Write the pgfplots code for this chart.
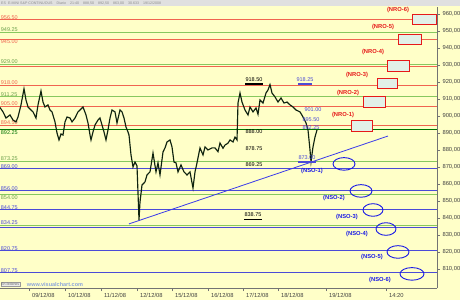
\documentclass[border=0pt]{standalone}
\usepackage{pgfplots}
\pgfplotsset{compat=1.18}
\usepackage{fontspec}
\setmainfont{Liberation Sans}
\definecolor{bg}{RGB}{255,255,200}
\definecolor{lred}{RGB}{240,100,80}
\definecolor{lgreen}{RGB}{135,200,95}
\definecolor{dgreen}{RGB}{0,115,0}
\definecolor{lblue}{RGB}{75,75,215}
\definecolor{nro}{RGB}{230,25,25}
\definecolor{nso}{RGB}{25,25,230}
\definecolor{boxfill}{RGB}{226,240,232}
\definecolor{price}{RGB}{15,35,15}
\definecolor{wm}{RGB}{140,165,220}
\begin{document}
\begin{tikzpicture}[x=1pt,y=1pt]
\useasboundingbox (0,-12) rectangle (460,288);
\fill[bg] (0,-12) rectangle (460,288);
\fill[black!12] (0,281.5) rectangle (460,288);
\node[anchor=west, inner sep=0pt, font=\fontsize{3.6}{4}\selectfont, text=black!45] at (1,284.7)
 {ES \;E-MINI S\&P CONTINUOUS \;\; Diario \;\; 21:40 \;\; 888,50 \;\; 892,50 \;\; 863,00 \;\; 30.633 \;\; 19/12/2008};
\begin{axis}[
  at={(0,0)}, anchor=south west,
  width=437pt, height=281pt, scale only axis,
  xmin=0, xmax=437, ymin=798.8, ymax=964.1,
  axis x line*=bottom, axis y line*=right,
  axis line style={black!55, line width=0.6pt},
  tick align=outside, major tick length=3pt,
  tick style={black!55, line width=0.5pt},
  ytick={810,820,...,960},
  /pgf/number format/assume math mode=true,
  yticklabel style={font=\fontsize{5.8}{6}\selectfont, text=black!75, xshift=-1pt,
    /pgf/number format/.cd, fixed, fixed zerofill, precision=2, use comma, 1000 sep={}},
  xtick={29,65,101,137,172,208,243,278,326,386},
  xticklabels={09/12/08,10/12/08,11/12/08,12/12/08,15/12/08,16/12/08,17/12/08,18/12/08,19/12/08,14:20},
  xticklabel style={anchor=north west, font=\fontsize{5.8}{6}\selectfont, text=black!75, xshift=-0.5pt, yshift=1pt},
  clip=false,
]
% horizontal levels
\addplot[lred, line width=1.1pt] coordinates {(0,956.5) (437,956.5)};
\addplot[lgreen, line width=1.1pt] coordinates {(0,949.25) (437,949.25)};
\addplot[lred, line width=1.1pt] coordinates {(0,945) (437,945)};
\addplot[lgreen, line width=1.1pt] coordinates {(0,930.2) (437,930.2)};
\addplot[lred, line width=1.1pt] coordinates {(0,928.9) (437,928.9)};
\addplot[lred, line width=1.1pt] coordinates {(0,918) (437,918)};
\addplot[lgreen, line width=1.1pt] coordinates {(0,911.25) (437,911.25)};
\addplot[lred, line width=1.1pt] coordinates {(0,905.5) (437,905.5)};
\addplot[lred, line width=1.1pt] coordinates {(0,894.5) (437,894.5)};
\addplot[dgreen, line width=1.1pt] coordinates {(0,892.25) (437,892.25)};
\addplot[lgreen, line width=1.1pt] coordinates {(0,873.25) (437,873.25)};
\addplot[lblue, line width=1.1pt] coordinates {(0,869) (437,869)};
\addplot[lblue, line width=1.1pt] coordinates {(0,856) (437,856)};
\addplot[lgreen, line width=1.1pt] coordinates {(0,854) (437,854)};
\addplot[lblue, line width=1.1pt] coordinates {(0,844.75) (437,844.75)};
\addplot[lgreen, line width=1.1pt] coordinates {(0,835.4) (437,835.4)};
\addplot[lblue, line width=1.1pt] coordinates {(0,834.25) (437,834.25)};
\addplot[lblue, line width=1.1pt] coordinates {(0,820.75) (437,820.75)};
\addplot[lblue, line width=1.1pt] coordinates {(0,807.75) (437,807.75)};
% left labels
\begin{scope}[every node/.style={anchor=south west, inner sep=0.4pt, xshift=0.3pt, font=\fontsize{5.5}{6}\selectfont}]
\node[text=lred] at (axis cs:0,956.5) {956.50};
\node[text=lgreen!80!black] at (axis cs:0,949.25) {949.25};
\node[text=lred, anchor=north west] at (axis cs:0,945) {945.00};
\node[text=lgreen!80!black] at (axis cs:0,930.2) {929.00};
\node[text=lred] at (axis cs:0,918) {918.00};
\node[text=lgreen!80!black] at (axis cs:0,911.25) {911.25};
\node[text=lred] at (axis cs:0,905.5) {905.00};
\node[text=lred] at (axis cs:0,894.5) {894.50};
\node[text=dgreen, anchor=north west] at (axis cs:0,892.0) {892.25};
\node[text=lgreen!80!black] at (axis cs:0,873.25) {873.25};
\node[text=lblue] at (axis cs:0,869) {869.00};
\node[text=lblue] at (axis cs:0,856) {856.00};
\node[text=lgreen!80!black, anchor=north west] at (axis cs:0,853.6) {854.00};
\node[text=lblue] at (axis cs:0,844.75) {844.75};
\node[text=lblue] at (axis cs:0,835.6) {834.25};
\node[text=lblue] at (axis cs:0,820.75) {820.75};
\node[text=lblue] at (axis cs:0,807.75) {807.75};
\end{scope}
% trend line
\addplot[nso!85!white, line width=0.8pt] coordinates {(129,836.5) (388,888.2)};
% price
\addplot[price, line width=1.15pt, line join=miter] coordinates {
(0,905.0) (3,902.4) (6,898.8) (10,900.6) (13,897.6) (16,896.5) (18,899.4) (21,906.5)
(24,916.0) (26,909.4) (28,905.3) (31,903.5) (33,902.4) (36,898.8) (38,906.5) (41,914.7)
(43,908.2) (45,905.3) (48,906.5) (50,903.5) (52,902.4) (55,896.5) (57,890.0) (59,885.9)
(61,889.4) (63,888.8) (65,896.5) (67,899.4) (70,898.8) (72,896.5) (75,898.8) (78,902.4)
(80,903.5) (83,905.3) (86,900.6) (88,895.9) (90,888.8) (91,885.9) (93,890.6) (95,894.7)
(98,897.6) (100,898.8) (102,894.7) (104,890.6) (106,885.9) (108,891.8) (110,898.8) (112,903.5)
(115,902.4) (117,895.9) (120,903.5) (122,902.4) (124,898.8) (126,893.5) (128,890.6) (129,888.8)
(131,877.1) (133,870.0) (135,872.9) (137,870.6) (139,838.8) (140,849.4) (142,859.4) (145,861.2)
(147,865.3) (150,867.1) (153,878.2) (156,867.1) (158,872.4) (160,865.3) (163,878.8) (165,881.2)
(167,884.7) (170,885.9) (172,881.8) (174,872.9) (176,872.4) (178,867.1) (181,871.2) (184,867.1)
(187,865.3) (190,867.1) (193,857.6) (195,867.1) (197,872.4) (200,881.2) (203,877.1) (205,881.8)
(208,880.0) (212,881.2) (215,881.2) (218,879.0) (220,884.1) (223,881.0) (225,882.9) (228,884.0)
(230,885.9) (233,884.7) (235,887.6) (237,885.9) (238,907.6) (240,913.5) (242,908.2) (245,903.5)
(248,900.6) (250,905.3) (253,902.4) (256,904.7) (258,901.0) (260,909.4) (263,907.6) (266,913.5)
(268,915.3) (270,918.5) (272,913.5) (275,911.2) (278,908.2) (281,910.6) (284,907.6) (287,908.2)
(290,906.5) (293,905.3) (296,903.5) (300,902.4) (303,899.4) (306,895.9) (308,891.8) (309,885.9)
(310,880.0) (311,873.0) (313,881.8) (315,887.6) (317,891.8)
};
% value labels
\begin{scope}[every node/.style={inner sep=0.5pt, font=\fontsize{5.5}{6}\selectfont}]
\node at (axis cs:254,921.2) {918.50};
\node at (axis cs:254,890.6) {888.00};
\node at (axis cs:254,880.6) {878.75};
\node at (axis cs:254,871.2) {869.25};
\node at (axis cs:253,841.8) {838.75};
\node[text=lblue] at (axis cs:305,921.2) {918.25};
\node[text=lblue] at (axis cs:313,903.5) {901.00};
\node[text=lblue] at (axis cs:311,897.6) {895.50};
\node[text=lblue] at (axis cs:311,892.9) {892.25};
\node[text=lblue] at (axis cs:307,875.3) {873.00};
\end{scope}
\addplot[black, line width=1.2pt] coordinates {(245,918.8) (263,918.8)};
\addplot[black, line width=1.2pt] coordinates {(244,838.9) (262,838.9)};
\addplot[lblue, line width=1.2pt] coordinates {(298,918.8) (312,918.8)};
\addplot[lblue, line width=1.2pt] coordinates {(298,872.9) (316,872.9)};
% NRO boxes
\begin{scope}[every node/.style={inner sep=0pt, text=nro, font=\bfseries\fontsize{5.8}{6}\selectfont}]
\addplot[draw=nro, fill=boxfill, line width=0.9pt] coordinates {(351,890.6) (372,890.6) (372,897.1) (351,897.1)} -- cycle;
\addplot[draw=nro, fill=boxfill, line width=0.9pt] coordinates {(363,905.3) (385,905.3) (385,911.2) (363,911.2)} -- cycle;
\addplot[draw=nro, fill=boxfill, line width=0.9pt] coordinates {(377,915.9) (397,915.9) (397,921.8) (377,921.8)} -- cycle;
\addplot[draw=nro, fill=boxfill, line width=0.9pt] coordinates {(387,925.9) (409,925.9) (409,932.4) (387,932.4)} -- cycle;
\addplot[draw=nro, fill=boxfill, line width=0.9pt] coordinates {(398,941.8) (421,941.8) (421,948.2) (398,948.2)} -- cycle;
\addplot[draw=nro, fill=boxfill, line width=0.9pt] coordinates {(412,954.1) (436,954.1) (436,960.0) (412,960.0)} -- cycle;
\node at (axis cs:343,900.6) {(NRO-1)};
\node at (axis cs:348,913.5) {(NRO-2)};
\node at (axis cs:357,924.1) {(NRO-3)};
\node at (axis cs:373,937.6) {(NRO-4)};
\node at (axis cs:383,952.4) {(NRO-5)};
\node at (axis cs:398,962.4) {(NRO-6)};
\end{scope}
% NSO ellipses
\begin{scope}[every node/.style={inner sep=0pt, text=nso, font=\bfseries\fontsize{5.8}{6}\selectfont}]
\draw[nso, line width=0.9pt] (axis cs:344,871.8) ellipse [x radius=11pt, y radius=6.3pt];
\draw[nso, line width=0.9pt] (axis cs:361,855.9) ellipse [x radius=11pt, y radius=6.3pt];
\draw[nso, line width=0.9pt] (axis cs:373,844.7) ellipse [x radius=10pt, y radius=6.3pt];
\draw[nso, line width=0.9pt] (axis cs:386,833.5) ellipse [x radius=10pt, y radius=6.3pt];
\draw[nso, line width=0.9pt] (axis cs:398,820.0) ellipse [x radius=11pt, y radius=6.3pt];
\draw[nso, line width=0.9pt] (axis cs:412,807.1) ellipse [x radius=12pt, y radius=6.3pt];
\node at (axis cs:312,867.6) {(NSO-1)};
\node at (axis cs:334,851.8) {(NSO-2)};
\node at (axis cs:347,840.6) {(NSO-3)};
\node at (axis cs:357,830.6) {(NSO-4)};
\node at (axis cs:372,817.1) {(NSO-5)};
\node at (axis cs:380,803.5) {(NSO-6)};
\end{scope}
% watermark
\node[text=wm, font=\bfseries\fontsize{5.5}{6}\selectfont, inner sep=0pt] at (axis cs:55,800.6) {www.visualchart.com};
\node[draw=black!40, fill=black!8, text=black!60, font=\fontsize{3.5}{4}\selectfont, inner sep=0.6pt, anchor=west] at (axis cs:0.5,800.8) {En órdenes};
\end{axis}
\end{tikzpicture}
\end{document}
